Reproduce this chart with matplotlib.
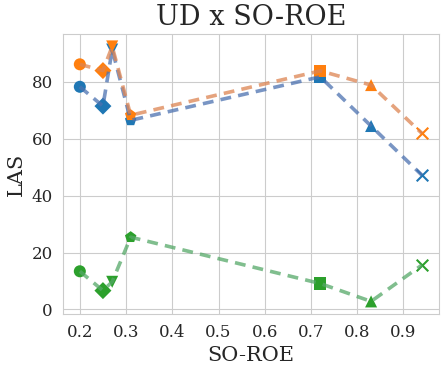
import numpy as np
import matplotlib
matplotlib.use("Agg")
import matplotlib.pyplot as plt
import seaborn as sns

sns.set_style("whitegrid")
plt.rcParams['font.family'] = ['DejaVu Serif']

so_roe = [0.2, 0.25, 0.27, 0.31, 0.72, 0.83, 0.94]
markers = ['o', 'D', 'v', 'p', 's', '^', 'x']

las_blue = [78.3, 71.5, 91.4, 66.5, 81.8, 64.5, 47.2]
las_orange = [86.2, 84.0, 92.5, 68.3, 83.9, 78.9, 61.9]
las_green = [13.4, 6.6, 9.7, 25.4, 9.1, 2.8, 15.6]

series = [
    (las_blue, '#4c72b0', '#1f77b4'),
    (las_orange, '#dd8452', '#ff7f0e'),
    (las_green, '#55a868', '#2ca02c'),
]

fig, ax = plt.subplots(figsize=(4.48, 3.74), dpi=100)

for vals, lc, mc in series:
    ax.plot(so_roe, vals, '--', color=lc, lw=2.6, alpha=0.75, dashes=(3, 2))
    for x, y, m in zip(so_roe, vals, markers):
        if m == 'x':
            ax.scatter(x, y, marker=m, s=70, color=mc, linewidths=1.5)
        else:
            ax.scatter(x, y, marker=m, s=75, color=mc, edgecolors='none')

ax.set_title("UD x SO-ROE", fontsize=19.5)
ax.set_xlabel("SO-ROE", fontsize=15)
ax.set_ylabel("LAS", fontsize=15)
ax.set_xticks(np.arange(0.2, 0.95, 0.1))
ax.set_yticks([0, 20, 40, 60, 80])
ax.tick_params(labelsize=12)
ax.margins(x=0.05, y=0.05)

fig.subplots_adjust(left=0.14, right=0.98, bottom=0.16, top=0.91)
fig.savefig("out.png", dpi=100)
